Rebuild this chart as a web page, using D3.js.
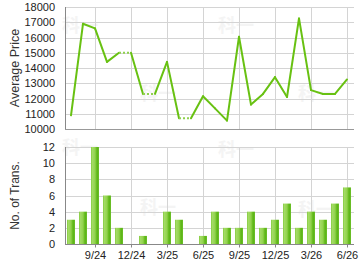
<!DOCTYPE html>
<html>
<head>
<meta charset="utf-8">
<script src="https://cdn.jsdelivr.net/npm/d3@7"></script>
<style>
  body { margin: 0; background: #fff; }
  svg { display: block; font-family: 'Liberation Sans', Arial, sans-serif; }
</style>
</head>
<body>
<svg width="360" height="270"></svg>
<script>
// months Jul 2024 .. Jun 2026
const months = ["7/24","8/24","9/24","10/24","11/24","12/24","1/25","2/25","3/25","4/25","5/25","6/25",
                "7/25","8/25","9/25","10/25","11/25","12/25","1/26","2/26","3/26","4/26","5/26","6/26"];
const tickMonths = ["9/24","12/24","3/25","6/25","9/25","12/25","3/26","6/26"];
// average price (months without trades carry the previous price)
const prices = [10900,16900,16600,14400,15000,15000,12300,12300,14400,10700,10700,12150,
                11350,10550,16050,11600,12300,13400,12100,17250,12550,12300,12300,13250];
const trans = [3,4,12,6,2,0,1,0,4,3,0,1,4,2,2,4,2,3,5,2,4,3,5,7];
const priceTicks = [10000,11000,12000,13000,14000,15000,16000,17000,18000];
const transTicks = [0,2,4,6,8,10,12];

const svg = d3.select('svg');
const left = 65, right = 353;
const lineColor = "#68c112";
const gridColor = "#d4d4d4";

const x = d3.scaleLinear().domain([-0.5, months.length - 0.5]).range([left, right]);
const yP = d3.scaleLinear().domain([10000, 18000]).range([129, 7]);
const yT = d3.scaleLinear().domain([0, 12]).range([244, 147]);

// bar gradient
const grad = svg.append('defs').append('linearGradient').attr('id', 'barGrad')
  .attr('x1', '0%').attr('x2', '100%').attr('y1', '0%').attr('y2', '0%');
[[0, "#80c93a"], [0.15, "#a4dc66"], [0.5, "#92d24e"], [0.68, "#6cbf24"], [0.85, "#5ab417"], [1, "#72c32e"]]
  .forEach(s => grad.append('stop').attr('offset', s[0]).attr('stop-color', s[1]));

// watermark
const wm = [[62, 32], [140, 100], [218, 32], [298, 100], [62, 154], [140, 214], [218, 156], [298, 216]];
svg.selectAll('text.wm').data(wm).enter().append('text')
  .attr('class', 'wm')
  .attr('x', d => d[0]).attr('y', d => d[1])
  .style('font-family', "'Noto Sans CJK SC'")
  .style('font-size', '18px').style('font-weight', 'bold')
  .attr('fill', '#f4f4f4')
  .text("科一");

function grid(g, yScale, ticks, y0, y1) {
  g.selectAll('line.h').data(ticks).enter().append('line')
    .attr('x1', left).attr('x2', right + 1)
    .attr('y1', d => Math.round(yScale(d)) + 0.5).attr('y2', d => Math.round(yScale(d)) + 0.5)
    .attr('stroke', gridColor);
  g.selectAll('line.v').data(tickMonths).enter().append('line')
    .attr('x1', d => Math.round(x(months.indexOf(d))) + 0.5)
    .attr('x2', d => Math.round(x(months.indexOf(d))) + 0.5)
    .attr('y1', y0).attr('y2', y1)
    .attr('stroke', gridColor);
}

// ---------- price chart ----------
const priceG = svg.append('g');
grid(priceG, yP, priceTicks, yP(18000), yP(10000));

priceG.append('g')
  .attr('transform', 'translate(' + left + ',0)')
  .call(d3.axisLeft(yP).tickValues(priceTicks).tickSize(0).tickPadding(10).tickFormat(d3.format('d')))
  .call(g => g.select('.domain').attr('stroke', '#888').attr('d', 'M0.5,' + yP(18000) + 'V' + (yP(10000) + 1)))
  .call(g => g.selectAll('text').style('font-size', '11px').attr('fill', '#222').style('font-family', "'Liberation Sans', Arial"));

priceG.append('line')
  .attr('x1', left).attr('x2', right + 1)
  .attr('y1', Math.round(yP(10000)) + 0.5).attr('y2', Math.round(yP(10000)) + 0.5)
  .attr('stroke', '#999');

priceG.append('text')
  .attr('transform', 'translate(19,' + (yP(14000)) + ') rotate(-90)')
  .attr('text-anchor', 'middle')
  .style('font-size', '12.5px').attr('fill', '#333')
  .text("Average Price");

const segs = d3.range(prices.length - 1).map(i => ({ a: i, b: i + 1, dotted: trans[i + 1] === 0 }));
priceG.selectAll('line.seg').data(segs).enter().append('line')
  .attr('class', 'seg')
  .attr('x1', d => x(d.a)).attr('y1', d => yP(prices[d.a]))
  .attr('x2', d => x(d.b)).attr('y2', d => yP(prices[d.b]))
  .attr('stroke', d => d.dotted ? "#8fd14e" : lineColor)
  .attr('stroke-width', 2)
  .attr('stroke-linecap', d => d.dotted ? 'butt' : 'round')
  .attr('stroke-dasharray', d => d.dotted ? '2,2' : null);

// ---------- transactions chart ----------
const transG = svg.append('g');
grid(transG, yT, transTicks, yT(12), yT(0) + 3);

transG.append('g')
  .attr('transform', 'translate(' + left + ',0)')
  .call(d3.axisLeft(yT).tickValues(transTicks).tickSize(0).tickPadding(10))
  .call(g => g.select('.domain').attr('stroke', '#888').attr('d', 'M0.5,' + yT(12) + 'V' + (yT(0) + 1)))
  .call(g => g.selectAll('text').style('font-size', '11px').attr('fill', '#222').style('font-family', "'Liberation Sans', Arial"));

transG.append('g')
  .attr('transform', 'translate(0,' + (Math.round(yT(0)) + 0.5) + ')')
  .call(d3.axisBottom(x).tickValues(tickMonths.map(m => months.indexOf(m))).tickSize(3).tickPadding(4)
    .tickFormat(i => months[i]))
  .call(g => g.select('.domain').attr('stroke', '#888').attr('d', 'M' + left + ',0H' + (right + 1)))
  .call(g => g.selectAll('.tick line').attr('stroke', '#888'))
  .call(g => g.selectAll('text').style('font-size', '11px').attr('fill', '#222').style('font-family', "'Liberation Sans', Arial"));

transG.append('text')
  .attr('transform', 'translate(19,' + yT(6) + ') rotate(-90)')
  .attr('text-anchor', 'middle')
  .style('font-size', '12px').attr('fill', '#333')
  .text("No. of Trans.");

const bw = 8;
transG.selectAll('rect.bar').data(trans.map((v, i) => ({ v, i })).filter(d => d.v > 0))
  .enter().append('rect')
  .attr('class', 'bar')
  .attr('x', d => Math.round(x(d.i) - bw / 2))
  .attr('width', bw)
  .attr('y', d => yT(d.v))
  .attr('height', d => yT(0) - yT(d.v))
  .attr('fill', 'url(#barGrad)');
</script>
</body>
</html>
